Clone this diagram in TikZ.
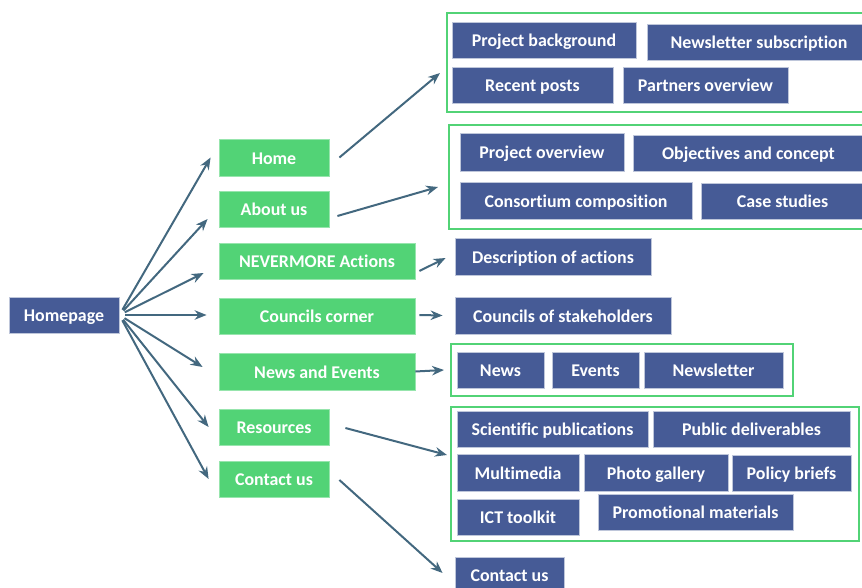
\documentclass[tikz,border=0pt]{standalone}
\usepackage{fontspec}
\setmainfont{Carlito}[Ligatures=NoCommon]
\usetikzlibrary{arrows.meta}
\definecolor{navy}{HTML}{465B96}
\definecolor{leaf}{HTML}{52D376}
\definecolor{link}{HTML}{43687F}
\tikzset{
  bluebox/.style={fill=navy, draw=navy!35!white, line width=0.8pt, text=white,
    font=\fontsize{17.9}{20}\selectfont\bfseries, inner sep=0pt,
    text height=13.6pt, text depth=0pt, minimum height=36pt},
  greenbox/.style={bluebox, fill=leaf, draw=leaf!60!white},
  group/.style={draw=leaf, line width=2.4pt, fill=none},
  arr/.style={draw=link, line width=2pt, -{Stealth[length=12pt,width=9.5pt]}},
}
\begin{document}
\begin{tikzpicture}[x=1pt,y=-1pt]
\useasboundingbox (0,0) rectangle (862,588);

% group frames
\draw[group] (447,13) rectangle (863,112);
\coordinate (c1) at (447,62.5);
\draw[group] (449,125) rectangle (863,229);
\coordinate (c2) at (449,177);
\draw[group] (451,344) rectangle (793,396);
\coordinate (c3) at (451,370);
\draw[group] (451,407) rectangle (859,541);
\coordinate (c4) at (451,474);

% root
\node[bluebox, minimum width=110pt] (hp) at (64,315) {Homepage};

% menu entries
\node[greenbox, minimum width=110pt, minimum height=37pt] (home) at (274,157.5) {Home};
\node[greenbox, minimum width=110pt] (about) at (274,209) {About us};
\node[greenbox, minimum width=196pt] (nev) at (317,261) {NEVERMORE Actions};
\node[greenbox, minimum width=196pt] (coun) at (317,316) {Councils corner};
\node[greenbox, minimum width=196pt, minimum height=37pt] (news) at (317,371.5) {News and Events};
\node[greenbox, minimum width=110pt] (res) at (274,427) {Resources};
\node[greenbox, minimum width=110pt] (cont) at (274,479) {Contact us};

% Home
\node[bluebox, minimum width=184pt] (pb) at (544,40) {Project background};
\node[bluebox, minimum width=224pt] (ns) at (759,42) {Newsletter subscription};
\node[bluebox, minimum width=161pt] (rp) at (532.5,85) {Recent posts};
\node[bluebox, minimum width=165pt] (po) at (705.5,85) {Partners overview};

% About us
\node[bluebox, minimum width=164pt, minimum height=38pt] (pov) at (542,152) {Project overview};
\node[bluebox, minimum width=231pt] (oc) at (748.5,153) {Objectives and concept};
\node[bluebox, minimum width=232pt, minimum height=37pt] (cc) at (576,200.5) {Consortium composition};
\node[bluebox, minimum width=163pt] (cs) at (782.5,201) {Case studies};

% NEVERMORE Actions, Councils corner
\node[bluebox, minimum width=196pt, minimum height=37pt] (da) at (553,256.5) {Description of actions};
\node[bluebox, minimum width=216pt, minimum height=37pt] (cos) at (563,315.5) {Councils of stakeholders};

% News and Events
\node[bluebox, minimum width=87pt] (nw) at (500.5,370) {News};
\node[bluebox, minimum width=87pt] (ev) at (595.5,370) {Events};
\node[bluebox, minimum width=139pt] (nl) at (713.5,370) {Newsletter};

% Resources
\node[bluebox, minimum width=191pt] (sp) at (552.5,429) {Scientific publications};
\node[bluebox, minimum width=197pt] (pd) at (751.5,429) {Public deliverables};
\node[bluebox, minimum width=122pt, minimum height=37pt] (mm) at (518,472.5) {Multimedia};
\node[bluebox, minimum width=144pt, minimum height=37pt] (pg) at (656,472.5) {Photo gallery};
\node[bluebox, minimum width=119pt] (pbr) at (791.5,473) {Policy briefs};
\node[bluebox, minimum width=122pt] (ict) at (518,517) {ICT toolkit};
\node[bluebox, minimum width=195pt] (pm) at (695.5,512) {Promotional materials};

% Contact us
\node[bluebox, minimum width=109pt] (cu) at (509.5,575) {Contact us};

% fan from the root
\draw[arr, shorten <=6pt] (hp.east) -- ([xshift=-8pt]home.west);
\draw[arr, shorten <=6pt] (hp.east) -- ([xshift=-11pt,yshift=-10pt]about.west);
\draw[arr, shorten <=6pt] (hp.east) -- ([xshift=-15pt,yshift=-12pt]nev.west);
\draw[arr, shorten <=6pt] (hp.east) -- ([xshift=-12pt,yshift=1pt]coun.west);
\draw[arr, shorten <=6pt] (hp.east) -- ([xshift=-16pt,yshift=4.5pt]news.west);
\draw[arr, shorten <=6pt] (hp.east) -- ([xshift=-10pt]res.west);
\draw[arr, shorten <=6pt] (hp.east) -- ([xshift=-10pt]cont.west);

% second level
\draw[arr] ([xshift=10pt]home.east) -- ([xshift=-7pt,yshift=-10.5pt]c1);
\draw[arr] ([xshift=8pt,yshift=-7pt]about.east) -- ([xshift=-11pt,yshift=-10pt]c2);
\draw[arr] ([xshift=4pt,yshift=-10pt]nev.east) -- ([xshift=-9pt,yshift=-1.5pt]da.west);
\draw[arr] ([xshift=4pt,yshift=1pt]coun.east) -- ([xshift=-12pt]cos.west);
\draw[arr] (news.east) -- ([xshift=-7pt]c3);
\draw[arr] ([xshift=16pt,yshift=-1pt]res.east) -- ([xshift=-4pt,yshift=19pt]c4);
\draw[arr] ([xshift=10pt,yshift=-1pt]cont.east) -- ([xshift=-12pt,yshift=2pt]cu.west);
\end{tikzpicture}
\end{document}
